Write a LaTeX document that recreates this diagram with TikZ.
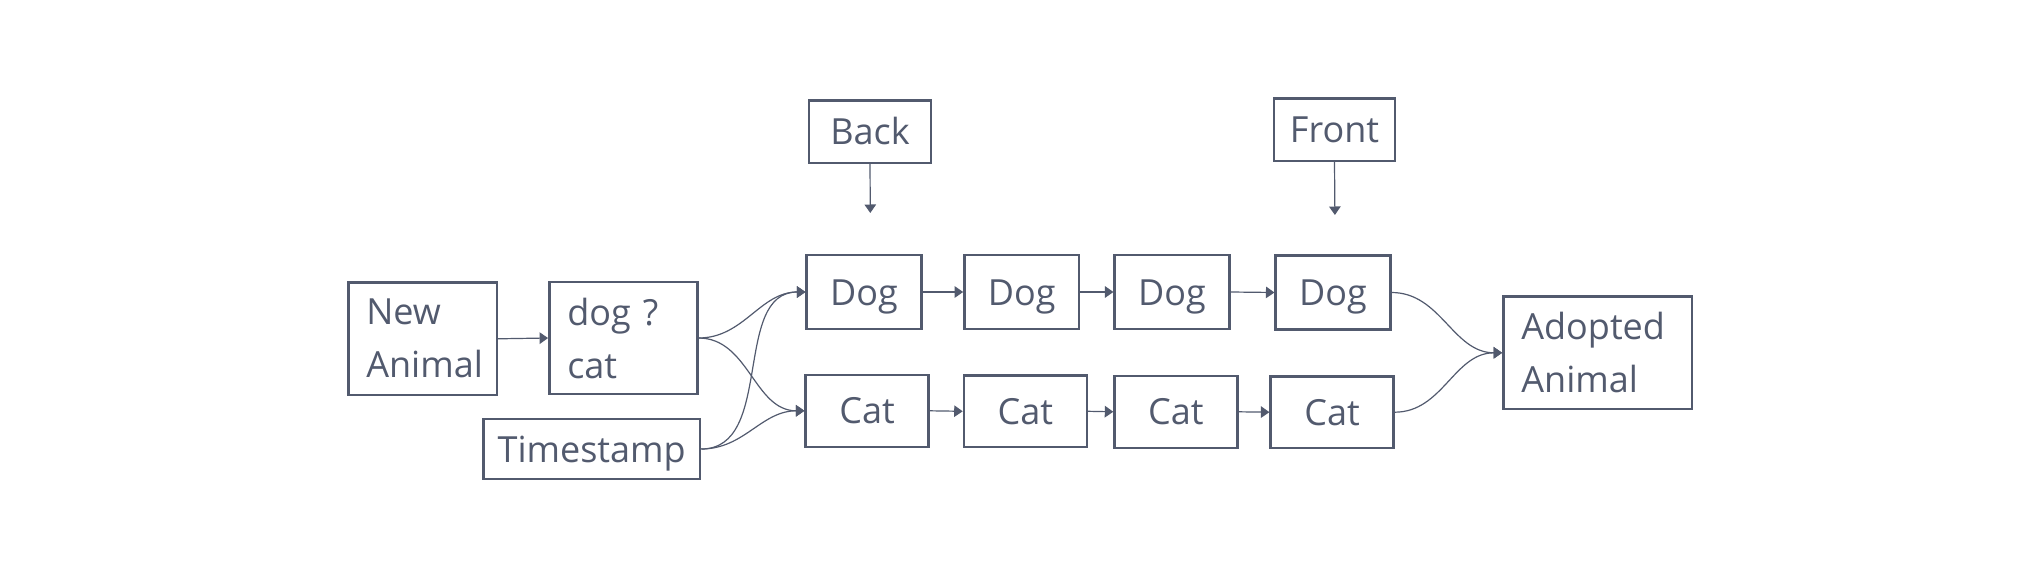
\documentclass[tikz,border=0pt]{standalone}
\usepackage{fontspec}
\setmainfont{Open Sans}
\usetikzlibrary{arrows.meta}
\definecolor{queueInk}{RGB}{82,90,110}

\begin{document}
\begin{tikzpicture}[x=1pt,y=-1pt,
  queueBox/.style={draw=queueInk, line width=2.4pt, text=queueInk, inner sep=0pt, font=\fontsize{36}{53}\selectfont},
  oneLine/.style={queueBox, text height=26pt, text depth=0pt},
  dogBox/.style={oneLine, minimum width=114.7pt, minimum height=74pt},
  catBox/.style={oneLine, minimum width=122.8pt, minimum height=71.8pt},
  queueLink/.style={draw=queueInk, line width=1.2pt, -{Triangle[length=8.5pt,width=11.5pt]}}]
\useasboundingbox (0,0) rectangle (2040,578);
\node[queueBox, minimum width=148.4pt, minimum height=112.3pt, text width=112.4pt, align=left] (newAnimal) at (422.5,338.8) {New\\Animal};
\node[queueBox, minimum width=148pt, minimum height=112pt, text width=112pt, align=left] (dogOrCat) at (623.3,338) {dog ?\\cat};
\node[oneLine, minimum width=216.7pt, minimum height=60pt] (timestamp) at (591.7,449) {Timestamp};
\node[oneLine, minimum width=122pt, minimum height=62.3pt] (backPtr) at (870,131.8) {Back};
\node[oneLine, minimum width=121pt, minimum height=62.4pt] (frontPtr) at (1334.5,129.5) {Front};
\node[dogBox] (dogA) at (864,292) {Dog};
\node[dogBox] (dogB) at (1021.7,292) {Dog};
\node[dogBox] (dogC) at (1172,292) {Dog};
\node[dogBox] (dogD) at (1333,292.5) {Dog};
\node[catBox] (catA) at (867,410.8) {Cat};
\node[catBox] (catB) at (1025.3,411.3) {Cat};
\node[catBox] (catC) at (1175.9,411.8) {Cat};
\node[catBox] (catD) at (1332,412.2) {Cat};
\node[queueBox, minimum width=188.7pt, minimum height=112.3pt, text width=152.7pt, align=left] (adopted) at (1597.7,352.8) {Adopted\\Animal};
\coordinate (backTip) at (870.3,213);
\coordinate (frontTip) at (1334.9,215);

% pointers
\draw[queueLink] (backPtr.south) -- (backTip);
\draw[queueLink] (frontPtr.south) -- (frontTip);
% intake
\draw[queueLink] (newAnimal.east) -- (dogOrCat.west);
\draw[queueLink] (dogOrCat.east) to[out=0,in=180] (dogA.west);
\draw[queueLink] (dogOrCat.east) to[out=0,in=180] (catA.west);
\draw[queueLink] (timestamp.east) to[out=0,in=180] (dogA.west);
\draw[queueLink] (timestamp.east) to[out=0,in=180] (catA.west);
% queues
\draw[queueLink] (dogA.east) -- (dogB.west);
\draw[queueLink] (dogB.east) -- (dogC.west);
\draw[queueLink] (dogC.east) -- (dogD.west);
\draw[queueLink] (catA.east) -- (catB.west);
\draw[queueLink] (catB.east) -- (catC.west);
\draw[queueLink] (catC.east) -- (catD.west);
% adoption
\draw[queueLink] (dogD.east) to[out=0,in=180] (adopted.west);
\draw[queueLink] (catD.east) to[out=0,in=180] (adopted.west);
\end{tikzpicture}
\end{document}
